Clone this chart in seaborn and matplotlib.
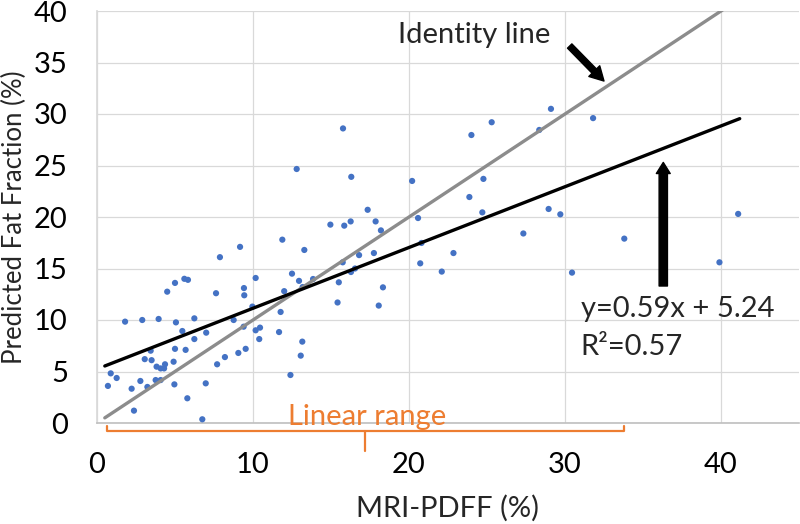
import matplotlib
matplotlib.use("Agg")
import matplotlib.pyplot as plt
import seaborn as sns
import numpy as np
import pandas as pd

# MRI-PDFF (%) vs predicted fat fraction (%)
mri_pdff = [7.88, 5.0, 4.5, 5.6, 5.83, 7.63, 9.42, 9.44, 10.17, 9.96,
            1.8, 2.9, 3.95, 5.06, 6.24, 8.76, 5.47, 7.0, 6.24, 9.4,
            10.17, 10.4, 3.44, 3.06, 3.5, 5.0, 5.68, 3.82, 4.08, 4.36,
            4.3, 4.91, 7.7, 8.2, 9.06, 9.53, 0.88, 1.26, 0.7, 2.22,
            2.78, 3.23, 3.76, 4.08, 4.96, 6.97, 5.79, 2.37, 6.75,
            12.8, 16.3, 17.35, 14.96, 15.85, 16.26, 17.86, 18.2, 11.88, 13.29,
            9.17, 15.75, 16.8, 17.75, 16.54, 16.28, 12.5, 12.95, 13.18, 13.85,
            12.0, 15.5, 15.42, 18.33, 18.06, 11.77, 10.45, 11.67, 13.16, 13.06,
            12.4, 29.1, 31.8, 25.3, 24.0, 28.35, 20.2, 24.77, 23.87, 24.7,
            20.58, 28.95, 29.7, 27.33, 20.8, 22.85, 20.72, 22.1, 30.45, 33.8,
            15.77, 39.9, 41.1]
predicted = [16.1, 13.6, 12.75, 14.0, 13.9, 12.6, 13.1, 12.4, 14.08, 11.3,
             9.84, 10.0, 10.1, 9.77, 10.16, 10.0, 8.93, 8.77, 8.15, 9.35,
             9.0, 8.15, 7.02, 6.2, 6.1, 7.2, 7.1, 5.47, 5.3, 5.7,
             5.3, 5.95, 5.7, 6.4, 6.8, 7.2, 4.82, 4.37, 3.6, 3.33,
             4.08, 3.5, 4.17, 4.17, 3.75, 3.85, 2.4, 1.2, 0.36,
             24.66, 23.9, 20.7, 19.26, 19.16, 19.57, 19.57, 18.7, 17.8, 16.8,
             17.1, 15.6, 16.3, 16.5, 15.0, 14.66, 14.5, 13.8, 13.2, 13.98,
             12.8, 13.66, 11.7, 13.17, 11.4, 10.78, 9.26, 8.83, 7.9, 6.54,
             4.66, 30.5, 29.6, 29.2, 27.96, 28.45, 23.5, 23.7, 21.94, 20.45,
             19.9, 20.78, 20.26, 18.4, 17.48, 16.5, 15.5, 14.7, 14.6, 17.9,
             28.6, 15.6, 20.3]

slope = 0.59
intercept = 5.24
fit_x = [0.5, 41.2]
identity_x = [0.5, 40.1]

x_ticks = [0, 10, 20, 30, 40]
y_ticks = [0, 5, 10, 15, 20, 25, 30, 35, 40]

sns.set_theme(style="whitegrid")
plt.rcParams['font.family'] = ['Lato', 'DejaVu Sans']
fs = 21

fig = plt.figure(figsize=(8, 5.24), dpi=100)
ax = fig.add_axes([97 / 800, 101 / 524, 702 / 800, 412 / 524])

df = pd.DataFrame({"x": mri_pdff, "y": predicted})
sns.scatterplot(data=df, x="x", y="y", ax=ax, color="#4472C4", s=20,
                edgecolor="none", zorder=3)

# identity line and linear fit
fit_df = pd.DataFrame({"x": fit_x, "y": [slope * v + intercept for v in fit_x]})
id_df = pd.DataFrame({"x": identity_x, "y": identity_x})
sns.lineplot(data=id_df, x="x", y="y", ax=ax, color="#8c8c8c", lw=2.4, zorder=4)
sns.lineplot(data=fit_df, x="x", y="y", ax=ax, color="black", lw=2.4, zorder=4)

ax.set_xlim(0, 45)
ax.set_ylim(0, 40)
ax.set_xticks(x_ticks)
ax.set_yticks(y_ticks)
ax.grid(True, color="#d9d9d9", lw=0.9)
ax.tick_params(axis="both", length=0, labelsize=fs, labelcolor="black")
ax.tick_params(axis="x", pad=21)
ax.tick_params(axis="y", pad=21)
for side in ["top", "right"]:
    ax.spines[side].set_visible(False)
ax.spines["left"].set_color("#d9d9d9")
ax.spines["bottom"].set_color("#bfbfbf")
ax.spines["bottom"].set_linewidth(1.2)

ax.set_xlabel("MRI-PDFF (%)", fontsize=fs)
ax.set_ylabel("Predicted Fat Fraction (%)", fontsize=18.5)
ax.xaxis.set_label_coords(0.5, -0.175)
ax.yaxis.set_label_coords(-0.1, 0.5)

# annotations
ax.text(24.2, 37.7, "Identity line", fontsize=fs, ha="center", va="center")
ax.annotate("", xy=(32.5, 33.2), xytext=(30.3, 36.6),
            arrowprops=dict(arrowstyle="simple,head_length=0.5,head_width=0.55,tail_width=0.22",
                            color="black", mutation_scale=20, shrinkA=0, shrinkB=0))
ax.annotate("", xy=(36.3, 25.3), xytext=(36.3, 13.3),
            arrowprops=dict(arrowstyle="simple,head_length=0.4,head_width=0.5,tail_width=0.3",
                            color="black", mutation_scale=20, shrinkA=0, shrinkB=0))
ax.text(31.0, 11.1, "y=0.59x + 5.24", fontsize=fs, ha="left", va="center")
ax.text(31.0, 7.4, "R²=0.57", fontsize=fs, ha="left", va="center")

# linear range bracket
orange = "#ED7D31"
ax.plot([0.64, 0.64, 33.8, 33.8], [-0.3, -0.75, -0.75, -0.3], color=orange,
        lw=1.6, clip_on=False)
ax.plot([17.2, 17.2], [-0.75, -2.7], color=orange, lw=1.6, clip_on=False)
ax.text(17.3, 0.6, "Linear range", fontsize=fs, color=orange, ha="center", va="center")

fig.savefig("out.png", dpi=100)
